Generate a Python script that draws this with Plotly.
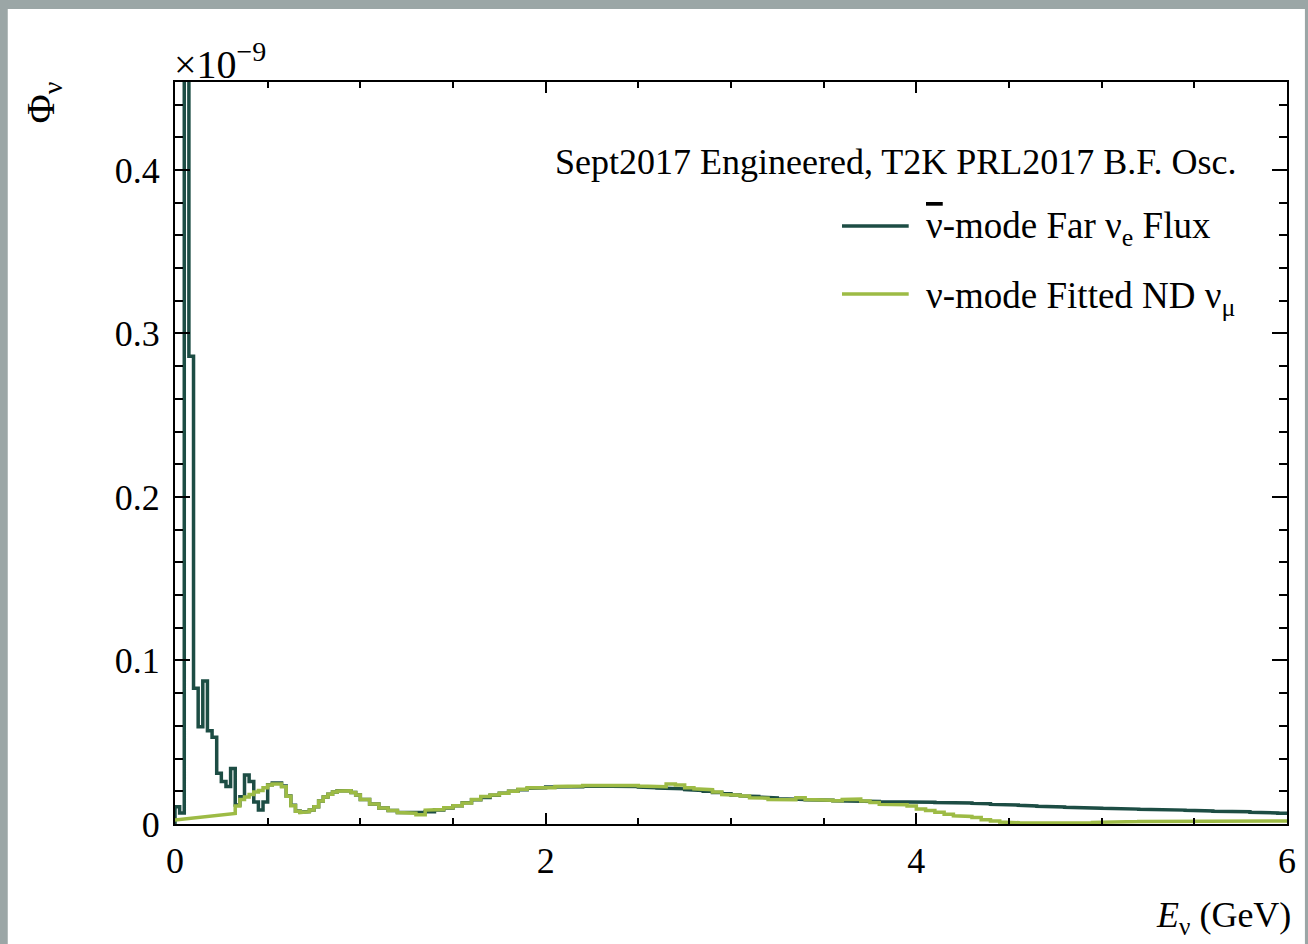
import plotly.graph_objects as go

# ---------------- data ----------------
# bin edges: 0.025 GeV bins up to 1.0 GeV, then 0.05 GeV bins up to 6 GeV
low_edges = [round(0.025 * i, 3) for i in range(41)]
high_edges = [round(1.0 + 0.05 * i, 3) for i in range(1, 101)]
edges = low_edges + high_edges

# anti-nu mode far nu_e flux (x1e-9)
dark_low = [0.0106, 0.0067, 0.62, 0.286, 0.083, 0.0595, 0.0875, 0.057, 0.053, 0.031,
            0.026, 0.023, 0.034, 0.0116, 0.0167, 0.030, 0.026, 0.0135, 0.0086, 0.0135,
            0.0240, 0.0250, 0.0250, 0.0232, 0.0172, 0.0115, 0.0080, 0.0072, 0.0076, 0.0086,
            0.0106, 0.0140, 0.0165, 0.0182, 0.0195, 0.0203, 0.0207, 0.0203, 0.0192, 0.0178]
dark_high = [
    0.0150, 0.0122, 0.0098, 0.0082, 0.0070, 0.0066, 0.0070, 0.0075, 0.0085, 0.0098,
    0.0112, 0.0130, 0.0148, 0.0162, 0.0176, 0.0188, 0.0200, 0.0210, 0.0218, 0.0222,
    0.0226, 0.0228, 0.0230, 0.0228, 0.0232, 0.0233, 0.0234, 0.0233, 0.0232, 0.0230,
    0.0226, 0.0222, 0.0220, 0.0218, 0.0215, 0.0210, 0.0205, 0.0200, 0.0192, 0.0185,
    0.0178, 0.0172, 0.0168, 0.0165, 0.0160, 0.0155, 0.0152, 0.0150, 0.0148, 0.0146,
    0.0145, 0.0142, 0.0140, 0.0138, 0.0137, 0.0138, 0.0136, 0.0137, 0.0138, 0.0136,
    0.0134, 0.0133, 0.0132, 0.0130, 0.0130, 0.0128, 0.0126, 0.0124, 0.0120, 0.0118,
    0.0116, 0.0114, 0.0110, 0.0108, 0.0106, 0.0104, 0.0102, 0.0100, 0.0098, 0.0097,
    0.0096, 0.0095, 0.0093, 0.0091, 0.0090, 0.0088, 0.0087, 0.0086, 0.0085, 0.0084,
    0.0082, 0.0080, 0.0078, 0.0077, 0.0076, 0.0075, 0.0072, 0.0070, 0.0068, 0.0066,
]
dark_vals = dark_low + dark_high

# nu mode fitted ND nu_mu (x1e-9)
green_start_x = [0.0, 0.325]
green_start_y = [0.0025, 0.0065]
green_low_edges = [round(0.325 + 0.025 * i, 3) for i in range(28)]
green_low = [0.011, 0.015, 0.0165, 0.018, 0.0195, 0.0205, 0.0222,
             0.0238, 0.0245, 0.0245, 0.0228, 0.0170, 0.0112, 0.0078, 0.0070, 0.0075, 0.0085,
             0.0106, 0.0140, 0.0165, 0.0182, 0.0196, 0.0202, 0.0207, 0.0203, 0.0192, 0.0178]
green_high = [
    0.0150, 0.0122, 0.0098, 0.0082, 0.0070, 0.0066, 0.0056, 0.0085, 0.0088, 0.0100,
    0.0112, 0.0128, 0.0150, 0.0168, 0.0178, 0.0188, 0.0200, 0.0212, 0.0222, 0.0225,
    0.0222, 0.0230, 0.0228, 0.0232, 0.0235, 0.0236, 0.0238, 0.0234, 0.0238, 0.0235,
    0.0232, 0.0230, 0.0228, 0.0245, 0.0238, 0.0222, 0.0215, 0.0210, 0.0195, 0.0180,
    0.0176, 0.0172, 0.0160, 0.0158, 0.0150, 0.0152, 0.0148, 0.0160, 0.0150, 0.0148,
    0.0146, 0.0142, 0.0150, 0.0152, 0.0140, 0.0132, 0.0120, 0.0116, 0.0118, 0.0110,
    0.0092, 0.0082, 0.0072, 0.0060, 0.0050, 0.0046, 0.0040, 0.0026, 0.0018, 0.0012,
    0.0008, 0.0006, 0.0004, 0.0003, 0.0003, 0.0004, 0.0005, 0.0006, 0.0008, 0.0010,
    0.0012, 0.0014, 0.0013, 0.0015, 0.0016, 0.0014, 0.0015, 0.0016, 0.0015, 0.0017,
    0.0016, 0.0015, 0.0016, 0.0015, 0.0016, 0.0014, 0.0015, 0.0014, 0.0016, 0.0018,
]
green_edges = green_low_edges + high_edges
green_vals = green_low + green_high

y_ticks = [0, 0.1, 0.2, 0.3, 0.4]
y_ticktext = ["0", "0.1", "0.2", "0.3", "0.4"]
x_ticks = [0, 2, 4, 6]

assert len(edges) == len(dark_vals) + 1
assert len(green_edges) == len(green_vals) + 1


def step_path(e, v, x0, y0):
    xs, ys = list(x0), list(y0)
    for i, val in enumerate(v):
        xs += [e[i], e[i + 1]]
        ys += [val, val]
    return xs, ys


DARK = "#1d4d44"
GREEN = "#9dbb45"
FONT = "Liberation Serif"

dx, dy = step_path(edges, dark_vals, [0.0], [0.0])
gx, gy = step_path(green_edges, green_vals, green_start_x, green_start_y)

fig = go.Figure()
fig.add_trace(go.Scatter(x=dx, y=dy, mode="lines", line=dict(color=DARK, width=3.5),
                         name="anti-nu mode Far nu_e Flux", showlegend=False))
fig.add_trace(go.Scatter(x=gx, y=gy, mode="lines", line=dict(color=GREEN, width=3.5),
                         name="nu mode Fitted ND nu_mu", showlegend=False))

L, R, T, B = 175, 16, 82, 120
W, H = 1308, 944
pw, ph = W - L - R, H - T - B


def px(xp):
    return (xp - L) / pw


def py(yp):
    return (H - B - yp) / ph


# gray page border with white canvas
fig.add_shape(type="rect", xref="paper", yref="paper", x0=px(7), x1=px(1310), y0=py(946), y1=py(9),
              fillcolor="white", line=dict(width=0), layer="below")

# legend samples
for yy, col in [(226, DARK), (294, GREEN)]:
    fig.add_shape(type="line", xref="paper", yref="paper", x0=px(845), x1=px(912), y0=py(yy), y1=py(yy),
                  line=dict(color=col, width=3.5))

tf = dict(family=FONT, size=36, color="black")
lf = dict(family=FONT, size=37, color="black")
bf = dict(family=FONT, size=40, color="black")
ann = [
    dict(text="Sept2017 Engineered, T2K PRL2017 B.F. Osc.", x=px(1243), y=py(162), xanchor="right",
         yanchor="middle", font=tf),
    dict(text="<span style='text-decoration:overline'>ν</span>-mode Far ν<sub>e</sub> Flux", x=px(927), y=py(229),
         xanchor="left", yanchor="middle", font=lf),
    dict(text="ν-mode Fitted ND ν<sub>μ</sub>", x=px(927), y=py(298), xanchor="left", yanchor="middle", font=lf),
    dict(text="×10<sup>−9</sup>", x=px(172), y=py(62), xanchor="left", yanchor="middle", font=bf),
    dict(text="<i>E</i><sub>ν</sub> (GeV)", x=px(1298), y=py(918), xanchor="right", yanchor="middle", font=tf),
    dict(text="Φ<sub>ν</sub>", x=px(42), y=py(103), xanchor="center", yanchor="middle", textangle=-90, font=bf),
]
for a in ann:
    fig.add_annotation(xref="paper", yref="paper", showarrow=False, **a)

fig.update_layout(
    width=W, height=H, autosize=False,
    margin=dict(l=L, r=R, t=T, b=B, pad=0),
    paper_bgcolor="#9ba6a6", plot_bgcolor="white",
    showlegend=False,
    xaxis=dict(range=[0, 6], tickvals=x_ticks, ticks="inside", ticklen=11, tickwidth=2, tickcolor="black",
               minor=dict(dtick=0.5, tick0=0, ticks="inside", ticklen=6, tickwidth=2, tickcolor="black"),
               showline=True, linewidth=2, linecolor="black", mirror="allticks",
               showgrid=False, zeroline=False, tickfont=tf, ticklabelstandoff=4),
    yaxis=dict(range=[0, 0.4538], tickvals=y_ticks, ticktext=y_ticktext, ticks="inside", ticklen=15, tickwidth=2,
               tickcolor="black",
               minor=dict(dtick=0.02, tick0=0, ticks="inside", ticklen=8, tickwidth=2, tickcolor="black"),
               showline=True, linewidth=2, linecolor="black", mirror="allticks",
               showgrid=False, zeroline=False, tickfont=tf, ticklabelstandoff=6),
)

fig.write_html("out.html")
